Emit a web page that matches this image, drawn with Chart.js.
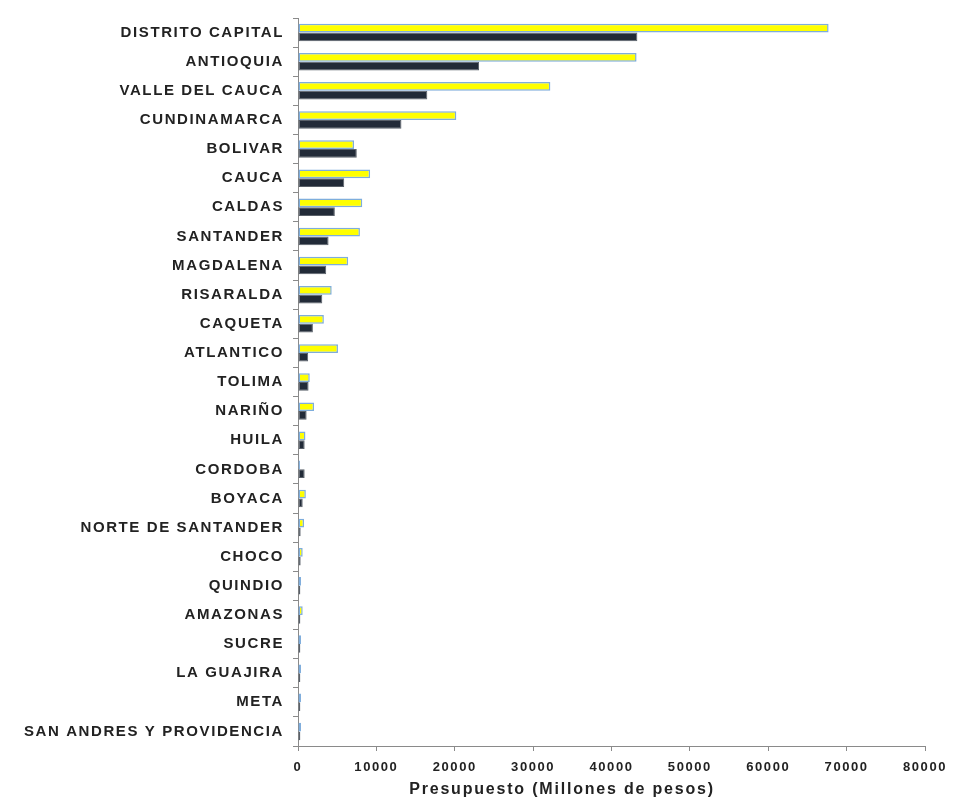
<!DOCTYPE html>
<html>
<head>
<meta charset="utf-8">
<script src="https://cdn.jsdelivr.net/npm/chart.js@4"></script>
<style>
    html, body { margin: 0; padding: 0; background: #fff; }
    #wrap { width: 954px; height: 800px; }
</style>
</head>
<body>
<div id="wrap"><canvas id="presupuestoChart" width="954" height="800"></canvas></div>
<script>
// Departamentos, ordered as shown top to bottom
const departamentos = ['DISTRITO CAPITAL', 'ANTIOQUIA', 'VALLE DEL CAUCA', 'CUNDINAMARCA', 'BOLIVAR', 'CAUCA', 'CALDAS',
    'SANTANDER', 'MAGDALENA', 'RISARALDA', 'CAQUETA', 'ATLANTICO', 'TOLIMA', 'NARIÑO', 'HUILA', 'CORDOBA', 'BOYACA',
    'NORTE DE SANTANDER', 'CHOCO', 'QUINDIO', 'AMAZONAS', 'SUCRE', 'LA GUAJIRA', 'META', 'SAN ANDRES Y PROVIDENCIA'];

// Presupuesto in millones de pesos
const serieAmarilla = [67700, 43200, 32200, 20200, 7150, 9200, 8200, 7900, 6400, 4300, 3300, 5100, 1500, 2050, 950,
    250, 1000, 770, 600, 380, 600, 380, 380, 380, 380];
const serieOscura = [43300, 23100, 16500, 13200, 7500, 5900, 4700, 3900, 3600, 3100, 1900, 1300, 1350, 1100, 850,
    850, 600, 340, 340, 300, 300, 300, 300, 300, 300];

const xTicks = [0, 10000, 20000, 30000, 40000, 50000, 60000, 70000, 80000];
const tituloX = 'Presupuesto (Millones de pesos)';

const axisColor = '#8a8a8a';
const textColor = '#222222';
const fontFamily = '"Liberation Sans", Arial, sans-serif';

// labels are drawn a bit spread out, and the axis title sits
// centred under the whole figure rather than the plot area
const textPlugin = {
    id: 'textStyle',
    beforeDraw(chart) {
        chart.ctx.letterSpacing = '1.6px';
    },
    afterDraw(chart) {
        const c = chart.ctx;
        c.save();
        c.letterSpacing = '1.8px';
        c.font = 'bold 16px ' + fontFamily;
        c.fillStyle = textColor;
        c.textAlign = 'center';
        c.textBaseline = 'middle';
        c.fillText(tituloX, 562, 790);
        c.restore();
    }
};

const ctx = document.getElementById('presupuestoChart').getContext('2d');
new Chart(ctx, {
    type: 'bar',
    data: {
        labels: departamentos,
        datasets: [{
            label: 'Serie 1',
            data: serieAmarilla,
            backgroundColor: '#ffff00',
            borderColor: '#7eaddc',
            borderWidth: 1.5,
            borderSkipped: false
        }, {
            label: 'Serie 2',
            data: serieOscura,
            backgroundColor: '#222b38',
            borderColor: '#596069',
            borderWidth: 1,
            borderSkipped: false
        }]
    },
    options: {
        indexAxis: 'y',
        responsive: false,
        animation: false,
        categoryPercentage: 0.6,
        barPercentage: 1.0,
        layout: {
            padding: { top: 15, right: 29, left: 0, bottom: 0 }
        },
        scales: {
            y: {
                grid: {
                    offset: true,
                    drawOnChartArea: false,
                    drawTicks: true,
                    tickLength: 5,
                    color: axisColor
                },
                border: { display: true, color: axisColor, width: 1 },
                ticks: {
                    color: textColor,
                    padding: 9,
                    autoSkip: false,
                    font: { family: fontFamily, size: 15, weight: 'bold' }
                },
                afterFit(scale) {
                    scale.width = 298;
                }
            },
            x: {
                min: 0,
                max: 80000,
                afterBuildTicks(scale) {
                    scale.ticks = xTicks.map(v => ({ value: v }));
                },
                grid: {
                    drawOnChartArea: false,
                    drawTicks: true,
                    tickLength: 5,
                    color: axisColor
                },
                border: { display: true, color: axisColor, width: 1 },
                ticks: {
                    color: textColor,
                    padding: 9,
                    maxRotation: 0,
                    font: { family: fontFamily, size: 13, weight: 'bold' },
                    callback: value => String(value)
                },
                afterFit(scale) {
                    scale.height = 54;
                }
            }
        },
        plugins: {
            legend: { display: false },
            tooltip: { enabled: false }
        }
    },
    plugins: [textPlugin]
});
</script>
</body>
</html>
